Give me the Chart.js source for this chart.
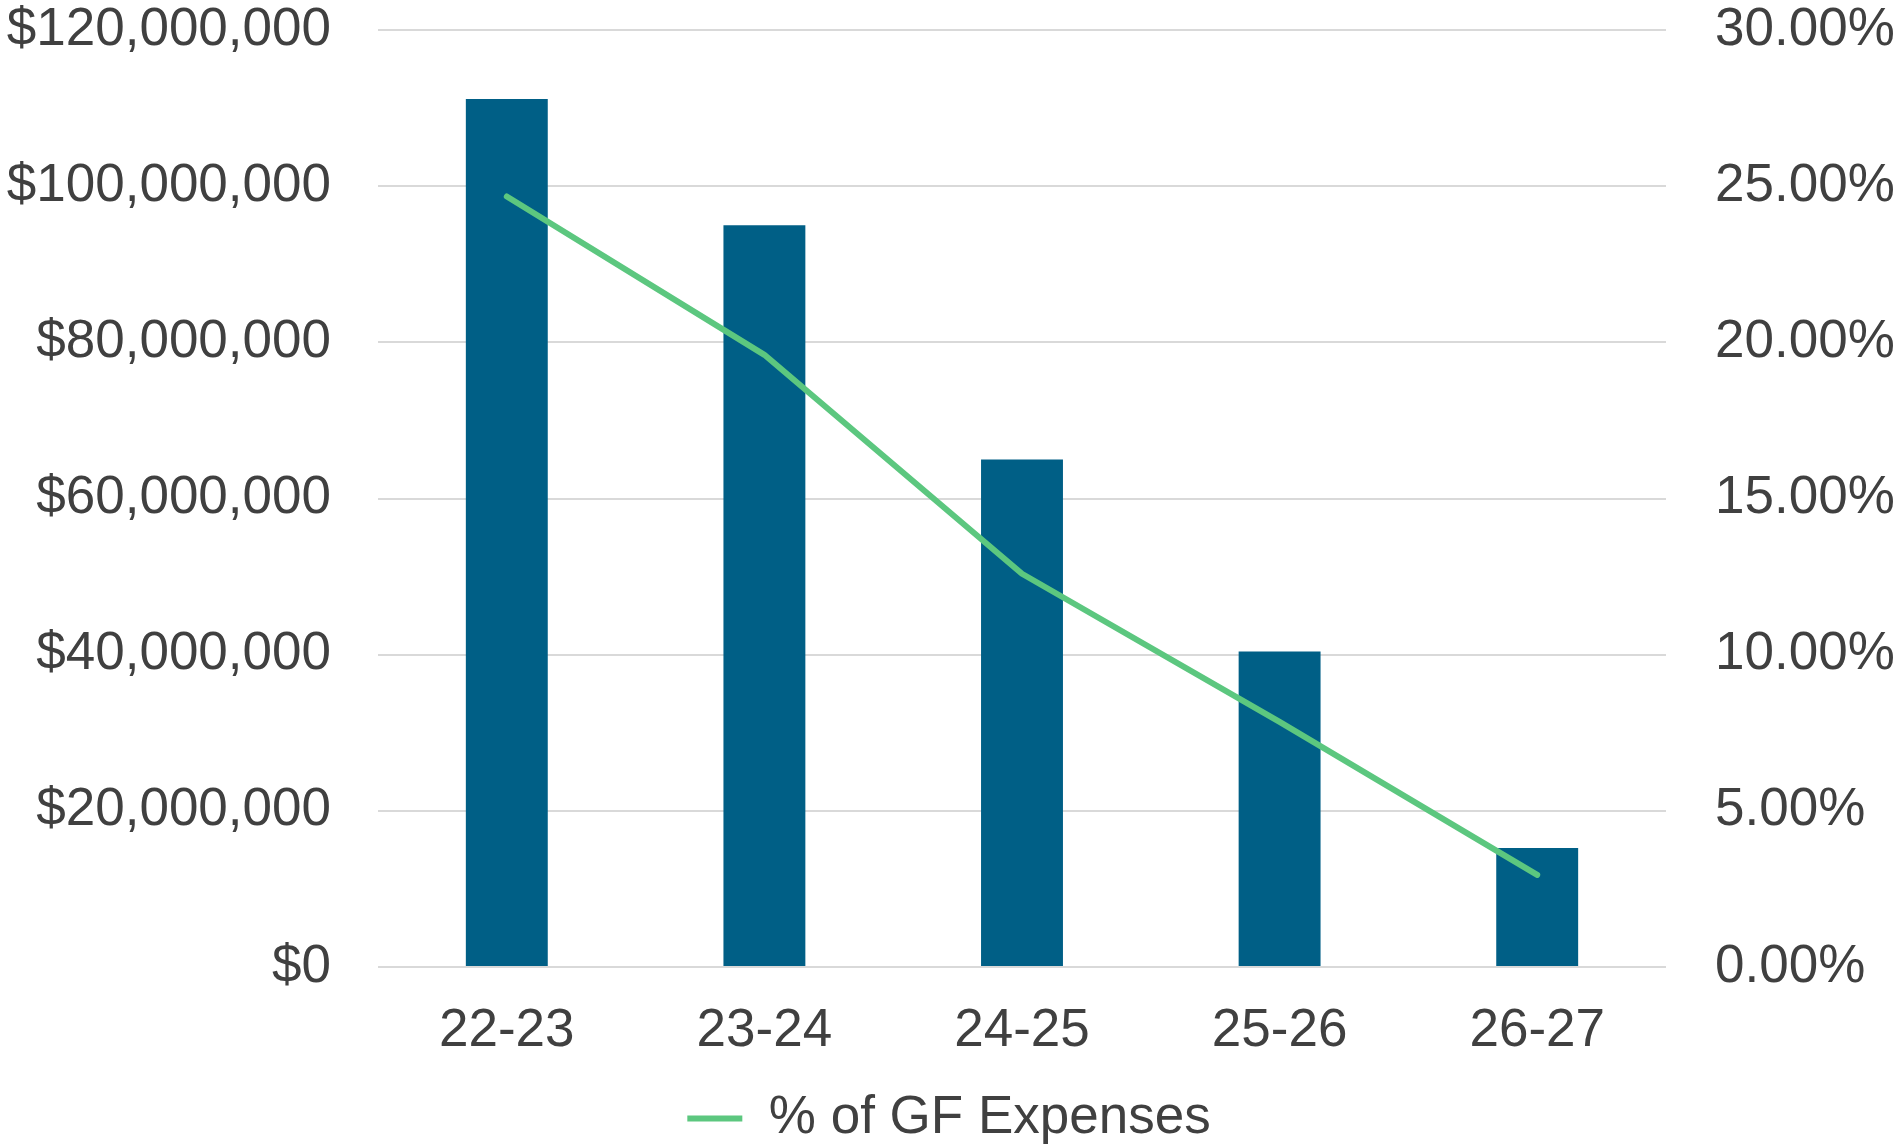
<!DOCTYPE html>
<html>
<head>
<meta charset="utf-8">
<script src="https://cdn.jsdelivr.net/npm/chart.js@4/dist/chart.umd.min.js"></script>
<style>
  html, body { margin: 0; padding: 0; background: #fff; }
  canvas { display: block; }
</style>
</head>
<body>
<canvas id="chart" width="1898" height="1145"></canvas>
<script>
// Chart data
const years = ['22-23', '23-24', '24-25', '25-26', '26-27'];
const amounts = [111150000, 95000000, 65000000, 40400000, 15250000];
const pctOfGF = [24.67, 19.6, 12.59, 7.85, 2.95];

// Axis ranges
const amountMax = 120000000;
const amountStep = 20000000;
const pctMax = 30;
const pctStep = 5;

const textColor = '#404040';
const gridColor = '#D9D9D9';
const tickFont = { family: '"Liberation Sans", Arial, sans-serif', size: 53 };

Chart.defaults.color = textColor;
Chart.defaults.font = tickFont;

// the tick padding also gets added above the plot, so trim it back
const trimVerticalPadding = (scale, width) => {
  scale.width = width;
  scale.paddingTop = 30;
  scale.paddingBottom = 0;
};

const ctx = document.getElementById('chart');

new Chart(ctx, {
  data: {
    labels: years,
    datasets: [
      {
        type: 'line',
        label: '% of GF Expenses',
        data: pctOfGF,
        yAxisID: 'yPct',
        borderColor: '#5CC77F',
        backgroundColor: '#5CC77F',
        borderWidth: 6,
        borderCapStyle: 'round',
        borderJoinStyle: 'round',
        tension: 0,
        pointRadius: 0,
        pointHoverRadius: 0,
        order: 0
      },
      {
        type: 'bar',
        label: 'Amount',
        data: amounts,
        yAxisID: 'yAmt',
        backgroundColor: '#005F86',
        categoryPercentage: 1,
        barPercentage: 0.318,
        order: 1
      }
    ]
  },
  options: {
    responsive: false,
    animation: false,
    devicePixelRatio: 1,
    layout: { padding: { top: 0, bottom: -10, left: 0, right: 0 } },
    plugins: {
      tooltip: { enabled: false },
      legend: {
        position: 'bottom',
        labels: {
          filter: (item) => item.datasetIndex === 0,
          usePointStyle: true,
          pointStyle: 'line',
          pointStyleWidth: 55,
          padding: 0,
          color: textColor,
          font: tickFont
        }
      }
    },
    scales: {
      x: {
        grid: { display: false },
        border: { display: false },
        ticks: { color: textColor, font: tickFont, padding: 25, maxRotation: 0 },
        afterFit: (scale) => { scale.height = 125; }
      },
      yAmt: {
        position: 'left',
        min: 0,
        max: amountMax,
        grid: { color: gridColor, lineWidth: 2, drawTicks: false },
        border: { display: false },
        ticks: {
          stepSize: amountStep,
          padding: 47,
          color: textColor,
          font: tickFont,
          callback: (v) => '$' + v.toLocaleString('en-US')
        },
        afterFit: (scale) => trimVerticalPadding(scale, 378)
      },
      yPct: {
        position: 'right',
        min: 0,
        max: pctMax,
        grid: { display: false, drawTicks: false },
        border: { display: false },
        ticks: {
          stepSize: pctStep,
          padding: 49,
          color: textColor,
          font: tickFont,
          callback: (v) => v.toFixed(2) + '%'
        },
        afterFit: (scale) => trimVerticalPadding(scale, 232)
      }
    }
  }
});
</script>
</body>
</html>
